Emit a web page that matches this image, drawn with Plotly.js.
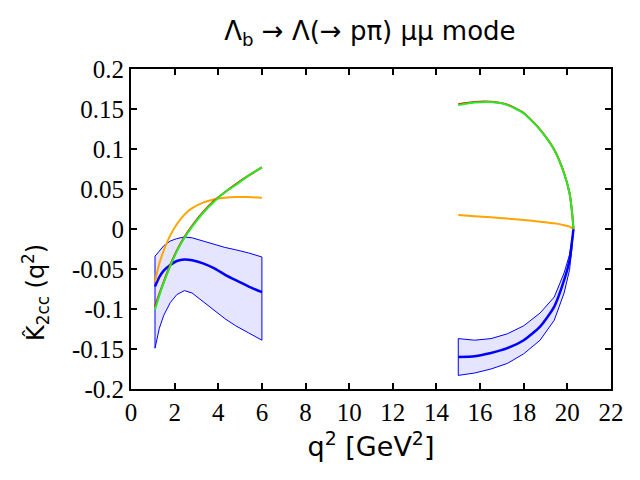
<!DOCTYPE html>
<html>
<head>
<meta charset="utf-8">
<script src="https://cdn.plot.ly/plotly-3.0.1.min.js"></script>
<style>
  html, body { margin: 0; padding: 0; background: #fff; }
  #graph { width: 640px; height: 480px; }
</style>
</head>
<body>
<div id="graph"></div>
<script>
"use strict";

// --- low q^2 bin [1.1, 6] ---
const qLow = [1.1, 1.3, 1.5, 1.8, 2.1, 2.45, 2.8, 3.3, 3.8, 4.3, 4.8, 5.4, 6.0];
const smLowCentral = [-0.072, -0.060, -0.052, -0.045, -0.040, -0.038, -0.039, -0.043, -0.049, -0.057, -0.064, -0.072, -0.079];
const smLowUpper = [-0.034, -0.027, -0.021, -0.015, -0.012, -0.010, -0.011, -0.015, -0.019, -0.023, -0.026, -0.030, -0.035];
const smLowLower = [-0.149, -0.124, -0.108, -0.092, -0.082, -0.077, -0.080, -0.091, -0.101, -0.112, -0.121, -0.130, -0.139];
const orangeLow = [-0.066, -0.043, -0.027, -0.008, 0.006, 0.018, 0.026, 0.033, 0.037, 0.039, 0.040, 0.040, 0.039];
const greenLow = [-0.101, -0.083, -0.067, -0.046, -0.028, -0.011, 0.003, 0.020, 0.034, 0.046, 0.055, 0.067, 0.077];
const redLow = [-0.097, -0.081, -0.066, -0.045, -0.027, -0.010, 0.004, 0.021, 0.035, 0.046, 0.056, 0.067, 0.077];

// --- high q^2 bin [15, 20.28] ---
const qHigh = [15.0, 15.75, 16.5, 17.25, 18.0, 18.75, 19.4, 19.85, 20.1, 20.22, 20.28];
const smHighCentral = [-0.160, -0.159, -0.155, -0.149, -0.139, -0.122, -0.097, -0.064, -0.039, -0.014, 0.0];
const smHighUpper = [-0.137, -0.139, -0.137, -0.131, -0.121, -0.105, -0.085, -0.055, -0.032, -0.012, 0.0];
const smHighLower = [-0.183, -0.180, -0.175, -0.168, -0.156, -0.139, -0.114, -0.080, -0.051, -0.022, 0.0];
const orangeHigh = [0.0175, 0.016, 0.0146, 0.013, 0.0113, 0.0092, 0.0071, 0.0048, 0.0030, 0.0012, 0.0];
const greenHigh = [0.155, 0.158, 0.1586, 0.155, 0.1446, 0.124, 0.0988, 0.0696, 0.0446, 0.0196, 0.0];
const redHigh = [0.156, 0.1588, 0.159, 0.1555, 0.145, 0.1242, 0.099, 0.0697, 0.0447, 0.0197, 0.0];

const xTicks = [0, 2, 4, 6, 8, 10, 12, 14, 16, 18, 20, 22];
const yTicks = [0.2, 0.15, 0.1, 0.05, 0, -0.05, -0.1, -0.15, -0.2];
const yTickText = ['0.2', '0.15', '0.1', '0.05', '0', '-0.05', '-0.1', '-0.15', '-0.2'];

const BLUE = '#0000ff';
const SANS = 'DejaVu Sans';
const SERIF = 'Liberation Serif';

function bandTrace(q, upper, lower) {
    const xs = q.concat(q.slice().reverse(), [q[0]]);
    const ys = upper.concat(lower.slice().reverse(), [upper[0]]);
    return {
        x: xs, y: ys, mode: 'lines', type: 'scatter', fill: 'toself',
        fillcolor: 'rgba(0, 0, 255, 0.1)',
        line: { color: BLUE, width: 1 },
        hoverinfo: 'skip', showlegend: false
    };
}

function lineTrace(q, y, color, width) {
    return {
        x: q, y: y, mode: 'lines', type: 'scatter',
        line: { color: color, width: width, shape: 'spline', smoothing: 0.6 },
        showlegend: false
    };
}

const traces = [
    bandTrace(qLow, smLowUpper, smLowLower),
    bandTrace(qHigh, smHighUpper, smHighLower),
    lineTrace(qLow, smLowCentral, BLUE, 2.5),
    lineTrace(qHigh, smHighCentral, BLUE, 2.5),
    lineTrace(qLow, orangeLow, '#ffa500', 2),
    lineTrace(qHigh, orangeHigh, '#ffa500', 2),
    lineTrace(qLow, redLow, '#ff0000', 2),
    lineTrace(qHigh, redHigh, '#ff0000', 2),
    lineTrace(qLow, greenLow, '#22ee22', 2),
    lineTrace(qHigh, greenHigh, '#22ee22', 2)
];

const layout = {
    width: 640, height: 480,
    paper_bgcolor: '#fff', plot_bgcolor: '#fff',
    font: { family: SERIF, size: 25, color: '#000' },
    margin: { l: 131, r: 29, t: 69, b: 91 },
    title: {
        text: 'Λ<sub>b</sub> → Λ(→ pπ) μμ mode',
        font: { family: SANS, size: 26, color: '#000' },
        x: 0.578, xanchor: 'center', y: 0.935, yanchor: 'middle'
    },
    xaxis: {
        range: [0, 22], tickmode: 'array', tickvals: xTicks,
        showgrid: false, zeroline: false,
        showline: true, linecolor: '#000', linewidth: 2, mirror: 'ticks',
        ticks: 'inside', ticklen: 6, tickwidth: 1.5, tickcolor: '#000',
        tickfont: { family: SERIF, size: 25, color: '#000' },
        title: { text: 'q<sup>2</sup> [GeV<sup>2</sup>]', font: { family: SANS, size: 27, color: '#000' }, standoff: 12 }
    },
    yaxis: {
        range: [-0.2, 0.2], tickmode: 'array', tickvals: yTicks, ticktext: yTickText, ticksuffix: '\u00a0',
        showgrid: false, zeroline: false,
        showline: true, linecolor: '#000', linewidth: 2, mirror: 'ticks',
        ticks: 'inside', ticklen: 6, tickwidth: 1.5, tickcolor: '#000',
        tickfont: { family: SERIF, size: 25, color: '#000' }
    },
    annotations: [{
        text: 'K̂<sub>2cc</sub> (q<sup>2</sup>)', textangle: -90,
        xref: 'paper', yref: 'paper', x: -0.2, y: 0.3,
        xanchor: 'center', yanchor: 'middle', showarrow: false,
        font: { family: SANS, size: 24, color: '#000' }
    }]
};

Plotly.newPlot('graph', traces, layout, { displayModeBar: false }).catch(err => {
    console.error('Plot error:', err);
});
</script>
</body>
</html>
